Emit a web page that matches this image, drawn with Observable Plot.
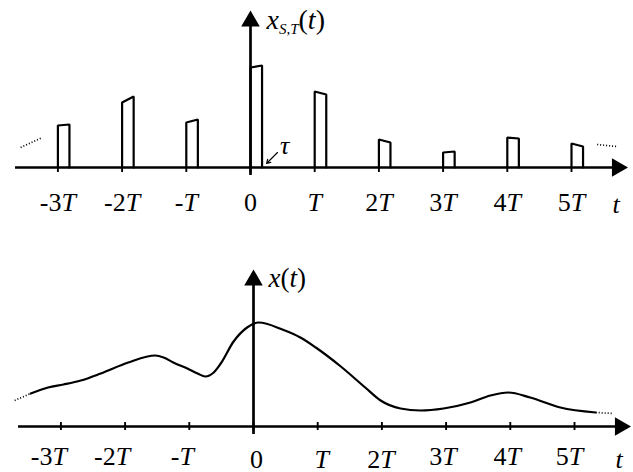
<!DOCTYPE html>
<html><head><meta charset="utf-8">
<script src="https://cdn.jsdelivr.net/npm/d3@7"></script>
<script src="https://cdn.jsdelivr.net/npm/@observablehq/plot@0.6"></script>
<style>body{margin:0;background:#fff;} svg{display:block;} svg text{font-family:"Liberation Serif","Times New Roman",serif;}</style>
</head><body><div id="c"></div>
<script>
// ---- data (t in units of T) ----
const sampleK = [-3, -2, -1, 0, 1, 2, 3, 4, 5];
const tickLabels = ["-3T", "-2T", "-T", "0", "T", "2T", "3T", "4T", "5T"];
const pulseStart = [4.2, 6.5, 4.5, 10.0, 7.6, 2.8, 1.5, 3.0, 2.4];
const pulseEnd   = [4.3, 7.1, 4.8, 10.2, 7.3, 2.5, 1.6, 2.9, 2.1];
const tau = 0.18;
const curveT = [-3.47, -3.2, -2.96, -2.69, -2.38, -1.95, -1.53, -1.4, -1.25, -1.03, -0.87, -0.75, -0.62, -0.51, -0.31, -0.1, 0.08, 0.45, 0.73, 0.97, 1.36, 1.74, 1.98, 2.29, 2.60, 2.96, 3.38, 3.69, 3.97, 4.31, 4.78, 5.33];
const curveX = [3.3, 3.9, 4.2, 4.6, 5.3, 6.4, 7.1, 6.9, 6.4, 5.8, 5.3, 5.0, 5.4, 6.3, 8.5, 9.9, 10.4, 9.7, 8.9, 7.9, 6.0, 3.9, 2.6, 1.8, 1.6, 1.8, 2.4, 3.1, 3.4, 2.9, 1.9, 1.4];
const topDotsT = [[-3.58, -3.24], [5.40, 5.70]];
const topDotsX = [[2.0, 3.0], [2.3, 2.1]];
const botDotsT = [[-3.72, -3.47], [5.33, 5.61]];
const botDotsX = [[2.6, 3.3], [1.4, 1.3]];
const tMin = -3.66, tMax = 5.88, vMin = -0.8, vMax = 15.7;
const topLabel = "x_S,T(t)";
const botLabel = "x(t)";
const axisName = "t";

const FONT = "Liberation Serif";

function dotted(ts, xs) {
  const rows = [];
  ts.forEach((seg, i) => seg.forEach((t, j) => rows.push({id: i, t, v: xs[i][j]})));
  return rows;
}

function axesMarks(tickY1, tickY2) {
  return [
    Plot.ruleY([0], {x1: tMin, x2: tMax - 0.15, strokeWidth: 2.7}),
    Plot.ruleX([0], {y1: vMin, y2: vMax - 0.6, strokeWidth: 2.7}),
    Plot.ruleX(sampleK, {y1: tickY1, y2: tickY2, strokeWidth: 1.9}),
    Plot.dot([{t: tMax, v: 0}], {x: "t", y: "v", symbol: "triangle", rotate: 90, r: 6.9, fill: "black", stroke: "none", dx: -10.7}),
    Plot.dot([{t: 0, v: vMax}], {x: "t", y: "v", symbol: "triangle", r: 6.9, fill: "black", stroke: "none", dy: 10.7})
  ];
}

const baseStyle = {background: "white", overflow: "visible", fontFamily: "'Liberation Serif', serif"};

// ---- top chart ----
const pulseRows = [];
sampleK.forEach((k, i) => {
  pulseRows.push({id: i, t: k, v: 0}, {id: i, t: k, v: pulseStart[i]},
                 {id: i, t: k + tau, v: pulseEnd[i]}, {id: i, t: k + tau, v: 0});
});

const topChart = Plot.plot({
  width: 633, height: 236, margin: 0,
  style: baseStyle,
  x: {domain: [0, 5], range: [250, 571], axis: null},
  y: {domain: [0, 10], range: [167, 67], axis: null},
  marks: [
    Plot.line(pulseRows, {x: "t", y: "v", z: "id", strokeWidth: 2.2, strokeLinejoin: "miter"}),
    ...axesMarks(-0.5, 0),
    Plot.line(dotted(topDotsT, topDotsX), {x: "t", y: "v", z: "id", strokeWidth: 1.7, strokeDasharray: "1,2", strokeLinecap: "butt"}),
    Plot.arrow([0], {x1: tau + 0.24, y1: 1.5, x2: tau + 0.07, y2: 0.4, strokeWidth: 1.1, headLength: 6}),
    Plot.text(["τ"], {x: tau, y: 0, dx: 18, dy: -14, textAnchor: "start", lineAnchor: "bottom", fontSize: 26, fontFamily: FONT}),
    Plot.text(sampleK, {x: d => d, y: 0, text: (d, i) => tickLabels[i], dy: 43, lineAnchor: "bottom", fontSize: 26, fontFamily: FONT}),
    Plot.text([axisName], {x: tMax, y: 0, dx: -12, dy: 45, lineAnchor: "bottom", fontSize: 26, fontFamily: FONT}),
    Plot.text([topLabel], {x: 0, y: vMax, dx: 16, dy: 18, textAnchor: "start", lineAnchor: "bottom", fontSize: 28, fontFamily: FONT})
  ]
});

// ---- bottom chart ----
const curveRows = curveT.map((t, i) => ({t, v: curveX[i]}));
const botShiftX = [-12, -13, -7, 3, 4, -1, -3, -3, -5];
const botShiftY = [38, 38, 38, 41, 41, 41, 38, 38, 38];

const botChart = Plot.plot({
  width: 633, height: 236, margin: 0,
  style: baseStyle,
  x: {domain: [0, 5], range: [253, 574], axis: null},
  y: {domain: [0, 10], range: [190, 90], axis: null},
  marks: [
    Plot.line(curveRows, {x: "t", y: "v", curve: "monotone-x", strokeWidth: 2.2}),
    ...axesMarks(-0.4, 0.4),
    Plot.line(dotted(botDotsT, botDotsX), {x: "t", y: "v", z: "id", strokeWidth: 1.7, strokeDasharray: "1,2", strokeLinecap: "butt"}),
    Plot.text(sampleK, {x: d => d, y: 0, text: (d, i) => tickLabels[i], lineAnchor: "bottom", fontSize: 26, fontFamily: FONT}),
    Plot.text([axisName], {x: tMax, y: 0, dx: -12, dy: 41, lineAnchor: "bottom", fontSize: 26, fontFamily: FONT}),
    Plot.text([botLabel], {x: 0, y: vMax, dx: 15, dy: 17, textAnchor: "start", lineAnchor: "bottom", fontSize: 27, fontFamily: FONT})
  ]
});

// place bottom tick labels individually (hand-drawn placement in the reference)
function shiftBottomLabels(svg) {
  svg.querySelectorAll("text").forEach(el => {
    const i = tickLabels.indexOf(el.textContent);
    if (i >= 0) {
      const tr = el.getAttribute("transform") || "";
      el.setAttribute("transform", tr + ` translate(${botShiftX[i]},${botShiftY[i]})`);
    }
  });
}
shiftBottomLabels(botChart);

const NS = "http://www.w3.org/2000/svg";
function ts(el, txt, opts = {}) {
  const t = document.createElementNS(NS, "tspan");
  t.textContent = txt;
  if (opts.italic) t.setAttribute("font-style", "italic");
  if (opts.size) t.setAttribute("font-size", opts.size);
  if (opts.dy) t.setAttribute("dy", opts.dy);
  el.appendChild(t);
}
function rich(svg) {
  svg.querySelectorAll("text").forEach(el => {
    const s = el.textContent;
    if (/^-?\d*T$/.test(s)) {
      el.textContent = "";
      if (s.length > 1) ts(el, s.slice(0, -1));
      ts(el, "T", {italic: true});
    } else if (s === "t" || s === "τ") {
      el.setAttribute("font-style", "italic");
    } else if (s === "x(t)") {
      el.textContent = "";
      ts(el, "x", {italic: true}); ts(el, "("); ts(el, "t", {italic: true}); ts(el, ")");
    } else if (s === "x_S,T(t)") {
      el.textContent = "";
      ts(el, "x", {italic: true});
      ts(el, "S,T", {italic: true, size: 15, dy: 5});
      ts(el, "(", {dy: -5}); ts(el, "t", {italic: true}); ts(el, ")");
    }
  });
}
rich(topChart); rich(botChart);

document.getElementById("c").append(topChart, botChart);
</script>
</body></html>
